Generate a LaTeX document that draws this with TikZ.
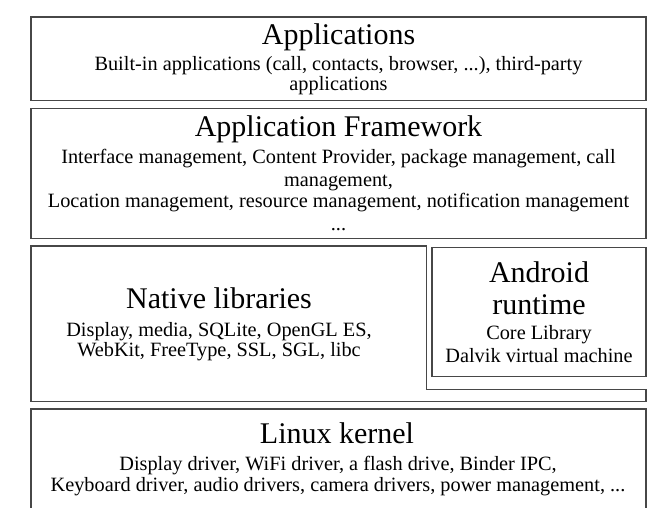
\documentclass[tikz,border=0pt]{standalone}
\usepackage{fontspec}
\setmainfont{Liberation Serif}
\begin{document}
\begin{tikzpicture}[x=1pt,y=-1pt,
  layer/.style={draw=black!72,line width=1.3pt},
  ttl/.style={anchor=base,inner sep=0pt,font=\fontsize{30}{34}\selectfont},
  txt/.style={anchor=base,inner sep=0pt,font=\fontsize{20.3}{22}\selectfont}]
\useasboundingbox[fill=white] (0,0) rectangle (664,508);
% boxes
\draw[layer] (31,17) rectangle (646,100.7);
\draw[layer] (31,108.5) rectangle (646,238.7);
\draw[layer] (31,246) -- (426.5,246) -- (426.5,389.5) -- (646,389.5) -- (646,401.7) -- (31,401.7) -- cycle;
\draw[layer] (432,247.7) rectangle (646,376.7);
\draw[layer] (31,512) -- (31,409) -- (646,409) -- (646,512);
% Applications
\node[ttl] (appT) at (338.5,45) {Applications};
\node[txt] (appA) at (338.5,71) {Built-in applications (call, contacts, browser, ...), third-party};
\node[txt] (appB) at (338.5,91) {applications};
% Framework
\node[ttl] (fwT) at (338.5,137) {Application Framework};
\node[txt] (fwA) at (338.5,164) {Interface management, Content Provider, package management, call};
\node[txt] (fwB) at (338.5,186) {management,};
\node[txt] (fwC) at (338.5,207) {Location management, resource management, notification management};
\node[txt] (fwD) at (338.5,230.5) {...};
% Native
\node[ttl] (natT) at (219,308) {Native libraries};
\node[txt] (natA) at (219,336) {Display, media, SQLite, OpenGL ES,};
\node[txt] (natB) at (219,356) {WebKit, FreeType, SSL, SGL, libc};
% Android runtime
\node[ttl] (arT) at (539,282.7) {Android};
\node[ttl] (arU) at (539,314.3) {runtime};
\node[txt] (arA) at (539,339.3) {Core Library};
\node[txt] (arB) at (539,362.7) {Dalvik virtual machine};
% Linux
\node[ttl] (lxT) at (337,443.3) {Linux kernel};
\node[txt] (lxA) at (338,470) {Display driver, WiFi driver, a flash drive, Binder IPC,};
\node[txt] (lxB) at (338,491) {Keyboard driver, audio drivers, camera drivers, power management, ...};
\end{tikzpicture}
\end{document}
